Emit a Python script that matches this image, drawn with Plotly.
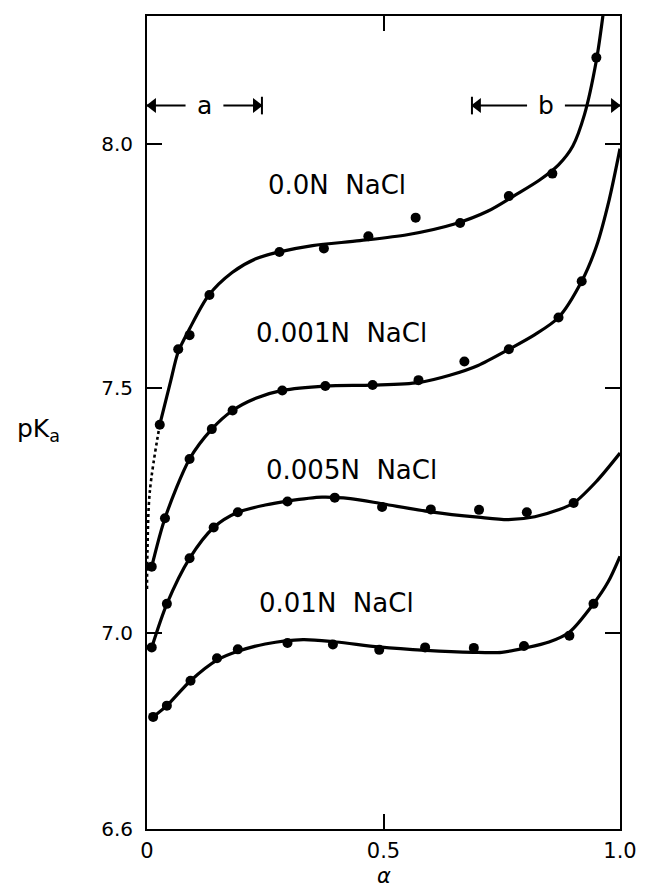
import plotly.graph_objects as go

# ---------------- data ----------------
# measured points (alpha, pKa)
alpha_00 = [0.027, 0.066, 0.090, 0.132, 0.280, 0.374, 0.468, 0.568, 0.662, 0.765, 0.857, 0.950]
pka_00 = [7.426, 7.580, 7.609, 7.691, 7.779, 7.786, 7.811, 7.849, 7.838, 7.893, 7.939, 8.176]

alpha_001 = [0.010, 0.038, 0.090, 0.137, 0.181, 0.286, 0.377, 0.477, 0.574, 0.671, 0.765, 0.870, 0.919]
pka_001 = [7.136, 7.235, 7.356, 7.417, 7.455, 7.496, 7.505, 7.507, 7.517, 7.555, 7.580, 7.645, 7.719]

alpha_005 = [0.010, 0.042, 0.090, 0.141, 0.192, 0.297, 0.397, 0.497, 0.600, 0.702, 0.803, 0.902]
pka_005 = [6.971, 7.060, 7.153, 7.216, 7.247, 7.269, 7.277, 7.258, 7.253, 7.252, 7.247, 7.266]

alpha_01 = [0.013, 0.042, 0.092, 0.148, 0.192, 0.297, 0.393, 0.491, 0.588, 0.691, 0.797, 0.893, 0.944]
pka_01 = [6.829, 6.852, 6.903, 6.949, 6.967, 6.980, 6.977, 6.966, 6.971, 6.970, 6.974, 6.995, 7.060]

# drawn (fitted) curves
curve_00_a = [0.027, 0.050, 0.066, 0.090, 0.130, 0.180, 0.230, 0.280, 0.350, 0.450, 0.550, 0.650,
              0.720, 0.780, 0.830, 0.870, 0.900, 0.925, 0.950, 0.965, 0.972]
curve_00_p = [7.426, 7.515, 7.575, 7.622, 7.690, 7.737, 7.765, 7.779, 7.792, 7.802, 7.814, 7.836,
              7.862, 7.896, 7.926, 7.957, 7.995, 8.060, 8.170, 8.270, 8.330]

dotted_00_a = [0.027, 0.006, 0.001, 0.000]
dotted_00_p = [7.426, 7.290, 7.170, 7.090]

curve_001_a = [0.010, 0.038, 0.090, 0.137, 0.181, 0.230, 0.286, 0.377, 0.477, 0.574, 0.640, 0.700,
               0.765, 0.820, 0.870, 0.919, 0.950, 0.977, 1.000]
curve_001_p = [7.136, 7.235, 7.356, 7.417, 7.455, 7.480, 7.496, 7.505, 7.507, 7.512, 7.527, 7.547,
               7.580, 7.610, 7.645, 7.719, 7.790, 7.885, 7.990]

curve_005_a = [0.010, 0.042, 0.090, 0.141, 0.192, 0.250, 0.297, 0.370, 0.430, 0.500, 0.600, 0.700,
               0.764, 0.820, 0.870, 0.902, 0.950, 1.000]
curve_005_p = [6.971, 7.060, 7.153, 7.216, 7.247, 7.262, 7.270, 7.278, 7.275, 7.264, 7.248, 7.237,
               7.232, 7.238, 7.252, 7.266, 7.310, 7.368]

curve_01_a = [0.013, 0.042, 0.092, 0.148, 0.192, 0.250, 0.330, 0.400, 0.490, 0.590, 0.690, 0.750,
              0.800, 0.850, 0.893, 0.944, 0.975, 1.000]
curve_01_p = [6.829, 6.852, 6.903, 6.945, 6.963, 6.978, 6.987, 6.982, 6.972, 6.965, 6.961, 6.961,
              6.970, 6.982, 7.002, 7.060, 7.105, 7.157]

# labels
series_labels = ["0.0N\u00a0\u00a0NaCl", "0.001N\u00a0\u00a0NaCl", "0.005N\u00a0\u00a0NaCl", "0.01N\u00a0\u00a0NaCl"]
label_alpha = [0.401, 0.412, 0.432, 0.400]
label_pka = [7.915, 7.613, 7.334, 7.062]

x_ticks = [0, 0.5, 1.0]
x_tick_text = ["0", "0.5", "1.0"]
y_ticks = [6.6, 7.0, 7.5, 8.0]
y_tick_text = ["6.6", "7.0", "7.5", "8.0"]

region_a = [0.0, 0.243]
region_b = [0.687, 1.0]
region_y = 8.078
region_names = ["a", "b"]

# ---------------- figure ----------------
fig = go.Figure()
LINE_W = 3.2

curves = [(curve_00_a, curve_00_p), (curve_001_a, curve_001_p),
          (curve_005_a, curve_005_p), (curve_01_a, curve_01_p)]
for ca, cp in curves:
    fig.add_trace(go.Scatter(x=ca, y=cp, mode="lines",
                             line=dict(color="black", width=LINE_W, shape="spline", smoothing=0.8),
                             hoverinfo="skip", showlegend=False))

fig.add_trace(go.Scatter(x=dotted_00_a, y=dotted_00_p, mode="lines",
                         line=dict(color="black", width=2.6, dash="dot", shape="spline"),
                         hoverinfo="skip", showlegend=False))

points = [(alpha_00, pka_00), (alpha_001, pka_001), (alpha_005, pka_005), (alpha_01, pka_01)]
for pa, pp in points:
    fig.add_trace(go.Scatter(x=pa, y=pp, mode="markers",
                             marker=dict(color="black", size=10),
                             cliponaxis=False, showlegend=False))

annotations = []
for txt, xa, ya in zip(series_labels, label_alpha, label_pka):
    annotations.append(dict(x=xa, y=ya, xref="x", yref="y", text=txt, showarrow=False,
                            font=dict(family="DejaVu Sans", size=26, color="black"),
                            xanchor="center", yanchor="middle"))

shapes = []
for (x0, x1), name in zip([region_a, region_b], region_names):
    mid = (x0 + x1) / 2.0
    gap = 0.04
    annotations.append(dict(x=mid, y=region_y, xref="x", yref="y", text=name, showarrow=False,
                            font=dict(family="DejaVu Sans", size=25, color="black"),
                            xanchor="center", yanchor="middle"))
    # arrow shafts with triangular heads
    for head, tail, sym in [(x0, mid - gap, "triangle-left"), (x1, mid + gap, "triangle-right")]:
        fig.add_trace(go.Scatter(x=[tail, head], y=[region_y, region_y], mode="lines",
                                 line=dict(color="black", width=2),
                                 hoverinfo="skip", showlegend=False))
        offset = 0.012 if sym == "triangle-left" else -0.012
        fig.add_trace(go.Scatter(x=[head + offset], y=[region_y], mode="markers",
                                 marker=dict(symbol=sym, size=13, color="black"),
                                 cliponaxis=False, hoverinfo="skip", showlegend=False))
    for xb in (x0, x1):
        if 0.0 < xb < 1.0:
            shapes.append(dict(type="line", xref="x", yref="y", x0=xb, x1=xb,
                               y0=region_y - 0.018, y1=region_y + 0.018,
                               line=dict(color="black", width=2)))

annotations.append(dict(x=-0.28, y=0.491, xref="paper", yref="paper",
                        text="pK<sub>a</sub>", showarrow=False, xanchor="left", yanchor="middle",
                        font=dict(family="DejaVu Sans", size=25, color="black")))
annotations.append(dict(x=0.5, y=-0.058, xref="paper", yref="paper",
                        text="<i>α</i>", showarrow=False, xanchor="center", yanchor="middle",
                        font=dict(family="DejaVu Sans", size=21, color="black")))

fig.update_layout(
    width=649, height=892,
    margin=dict(l=147, r=18, t=16, b=63),
    paper_bgcolor="white", plot_bgcolor="white",
    showlegend=False,
    annotations=annotations, shapes=shapes,
    font=dict(family="DejaVu Sans", color="black"),
)
fig.update_xaxes(range=[0, 1], tickvals=x_ticks, ticktext=x_tick_text,
                 ticks="inside", ticklen=15, tickwidth=1.5, tickcolor="black",
                 showline=True, linecolor="black", linewidth=2, mirror="ticks",
                 showgrid=False, zeroline=False,
                 tickfont=dict(family="DejaVu Sans", size=21, color="black"),
                 ticklabelstandoff=2)
fig.update_yaxes(range=[6.6, 8.261], tickvals=y_ticks, ticktext=y_tick_text,
                 ticks="inside", ticklen=15, tickwidth=1.5, tickcolor="black",
                 showline=True, linecolor="black", linewidth=2, mirror="ticks",
                 showgrid=False, zeroline=False,
                 tickfont=dict(family="DejaVu Sans", size=20, color="black"),
                 ticklabelstandoff=8)

fig.write_html("out.html")
